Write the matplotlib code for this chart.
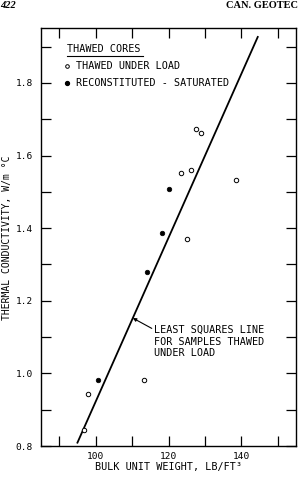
import matplotlib
import matplotlib.pyplot as plt
import numpy as np

matplotlib.use("Agg")

# thawed under load (open circles)
thawed_x = [96.8, 97.8, 113.4, 125.0, 123.4, 126.1, 127.5, 128.9, 138.6]
thawed_k = [0.844, 0.944, 0.981, 1.371, 1.551, 1.560, 1.672, 1.661, 1.532]

# reconstituted - saturated (filled circles)
recon_x = [100.7, 114.0, 118.3, 120.2]
recon_k = [0.981, 1.279, 1.386, 1.507]

# least squares line end points
fit_x = [94.9, 144.6]
fit_k = [0.807, 1.929]

x_ticks = [90, 100, 110, 120, 130, 140, 150]
x_labels = ["", "100", "", "120", "", "140", ""]
y_ticks = [0.8, 0.9, 1.0, 1.1, 1.2, 1.3, 1.4, 1.5, 1.6, 1.7, 1.8, 1.9]
y_labels = ["0.8", "", "1.0", "", "1.2", "", "1.4", "", "1.6", "", "1.8", ""]

MONO = "DejaVu Sans Mono"
FS = 7.3

fig = plt.figure(figsize=(3.0, 4.78), dpi=100)
fig.patch.set_facecolor("white")
ax = fig.add_axes([0.1367, 0.0669, 0.85, 0.8735])

ax.plot(fit_x, fit_k, color="black", lw=1.3, solid_capstyle="butt")
ax.plot(thawed_x, thawed_k, "o", ms=3.2, mfc="white", mec="black", mew=0.7)
ax.plot(recon_x, recon_k, "o", ms=3.3, mfc="black", mec="black", mew=0.5)

ax.set_xlim(85, 155)
ax.set_ylim(0.8, 1.95)
ax.set_xticks(x_ticks)
ax.set_xticklabels(x_labels, family=MONO, fontsize=6.8)
ax.set_yticks(y_ticks)
ax.set_yticklabels(y_labels, family=MONO, fontsize=6.8)
ax.tick_params(direction="in", length=7, width=0.9, top=True, right=True)
ax.tick_params(axis="x", pad=4)
ax.tick_params(axis="y", pad=6)
for sp in ax.spines.values():
    sp.set_linewidth(1.0)

ax.set_xlabel("BULK UNIT WEIGHT, LB/FT³", family=MONO, fontsize=FS, labelpad=1)
ax.set_ylabel("THERMAL CONDUCTIVITY, W/m °C", family=MONO, fontsize=7.0)
ax.yaxis.set_label_coords(-0.112, 0.5)

# legend block
ax.text(0.100, 0.951, "THAWED CORES", transform=ax.transAxes, family=MONO,
        fontsize=FS, ha="left", va="center")
ax.plot([0.100, 0.400], [0.934, 0.934], transform=ax.transAxes, color="black", lw=0.8)
ax.plot([0.103], [0.911], "o", transform=ax.transAxes, ms=2.6, mfc="white",
        mec="black", mew=0.7)
ax.text(0.137, 0.911, "THAWED UNDER LOAD", transform=ax.transAxes, family=MONO,
        fontsize=FS, ha="left", va="center")
ax.plot([0.103], [0.870], "o", transform=ax.transAxes, ms=2.8, mfc="black", mec="black")
ax.text(0.137, 0.870, "RECONSTITUTED - SATURATED", transform=ax.transAxes, family=MONO,
        fontsize=FS, ha="left", va="center")

# least squares annotation
tip_x = 110.2
tip_k = np.interp(tip_x, fit_x, fit_k)
ax.annotate("", xy=(tip_x, tip_k), xytext=(115.4, 1.124),
            arrowprops=dict(arrowstyle="-|>", color="black", lw=0.8, mutation_scale=5,
                            shrinkA=0, shrinkB=0))
ax.text(116.0, 1.133, "LEAST SQUARES LINE\nFOR SAMPLES THAWED\nUNDER LOAD",
        family=MONO, fontsize=FS, ha="left", va="top", linespacing=1.2)

# page header
fig.text(0.0, 0.989, "422", family="Liberation Serif", fontweight="bold",
         fontstyle="italic", fontsize=7.5, ha="left", va="center")
fig.text(0.995, 0.989, "CAN. GEOTEC", family="Liberation Serif", fontweight="bold",
         fontsize=7.5, ha="right", va="center")

fig.savefig("out.png", dpi=100)
